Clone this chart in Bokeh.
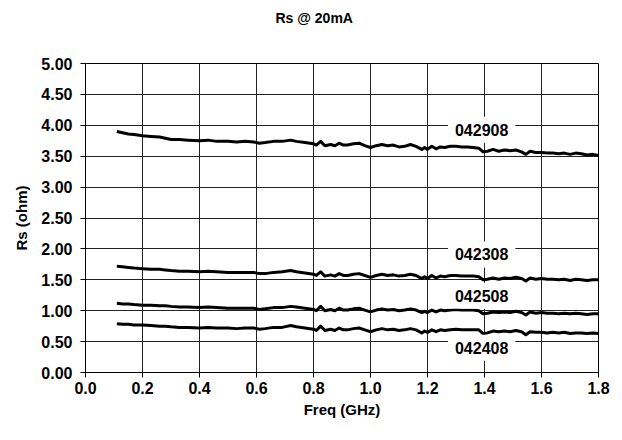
from bokeh.plotting import figure
from bokeh.models import Range1d, FixedTicker, PrintfTickFormatter, Label, Title
from bokeh.embed import file_html
from bokeh.resources import INLINE

# ---- data ----
freq = [0.11, 0.13, 0.15, 0.17, 0.20, 0.23, 0.26, 0.28, 0.30, 0.33,
        0.36, 0.40, 0.43, 0.46, 0.50, 0.53, 0.56, 0.59, 0.61, 0.63,
        0.66, 0.69, 0.72, 0.74, 0.77, 0.80, 0.81, 0.825, 0.84, 0.86,
        0.875, 0.89, 0.905, 0.92, 0.94, 0.96, 0.98, 1.00, 1.02, 1.04,
        1.06, 1.08, 1.10, 1.12, 1.14, 1.16, 1.18, 1.19, 1.20, 1.215,
        1.23, 1.245, 1.26, 1.28, 1.30, 1.32, 1.34, 1.36, 1.38, 1.395,
        1.41, 1.43, 1.45, 1.47, 1.49, 1.51, 1.53, 1.545, 1.56, 1.58,
        1.60, 1.62, 1.64, 1.66, 1.68, 1.70, 1.72, 1.74, 1.76, 1.78,
        1.80]

rs_042908 = [3.90, 3.88, 3.86, 3.85, 3.83, 3.82, 3.81, 3.79, 3.77, 3.77,
             3.76, 3.75, 3.76, 3.74, 3.74, 3.73, 3.74, 3.73, 3.71, 3.72,
             3.74, 3.74, 3.76, 3.74, 3.72, 3.70, 3.68, 3.74, 3.67, 3.69,
             3.67, 3.71, 3.68, 3.68, 3.70, 3.71, 3.67, 3.64, 3.67, 3.69,
             3.67, 3.68, 3.65, 3.66, 3.69, 3.66, 3.61, 3.64, 3.61, 3.66,
             3.62, 3.65, 3.64, 3.66, 3.66, 3.65, 3.65, 3.64, 3.63, 3.57,
             3.58, 3.61, 3.58, 3.60, 3.59, 3.60, 3.57, 3.53, 3.58, 3.56,
             3.56, 3.55, 3.55, 3.54, 3.55, 3.53, 3.55, 3.54, 3.52, 3.53,
             3.51]

rs_042308 = [1.72, 1.71, 1.70, 1.69, 1.68, 1.67, 1.67, 1.66, 1.65, 1.64,
             1.64, 1.63, 1.64, 1.63, 1.62, 1.62, 1.62, 1.62, 1.60, 1.60,
             1.62, 1.63, 1.65, 1.63, 1.61, 1.59, 1.57, 1.63, 1.56, 1.58,
             1.56, 1.60, 1.57, 1.57, 1.59, 1.60, 1.57, 1.54, 1.57, 1.59,
             1.57, 1.58, 1.56, 1.57, 1.59, 1.57, 1.52, 1.55, 1.52, 1.57,
             1.53, 1.56, 1.55, 1.57, 1.57, 1.56, 1.56, 1.56, 1.55, 1.50,
             1.51, 1.53, 1.51, 1.53, 1.52, 1.54, 1.52, 1.48, 1.53, 1.51,
             1.52, 1.51, 1.51, 1.50, 1.51, 1.49, 1.51, 1.50, 1.49, 1.50,
             1.50]

rs_042508 = [1.12, 1.11, 1.11, 1.10, 1.09, 1.09, 1.08, 1.08, 1.07, 1.06,
             1.06, 1.05, 1.06, 1.05, 1.04, 1.04, 1.04, 1.04, 1.02, 1.03,
             1.05, 1.05, 1.07, 1.06, 1.04, 1.02, 1.00, 1.07, 1.00, 1.02,
             1.00, 1.04, 1.01, 1.01, 1.03, 1.04, 1.01, 0.98, 1.01, 1.03,
             1.01, 1.02, 1.00, 1.01, 1.03, 1.01, 0.97, 0.99, 0.97, 1.01,
             0.98, 1.01, 1.00, 1.01, 1.02, 1.01, 1.01, 1.01, 1.00, 0.95,
             0.96, 0.98, 0.97, 0.98, 0.97, 0.99, 0.97, 0.93, 0.98, 0.96,
             0.97, 0.96, 0.96, 0.95, 0.96, 0.95, 0.96, 0.95, 0.94, 0.95,
             0.95]

rs_042408 = [0.79, 0.78, 0.78, 0.77, 0.77, 0.76, 0.75, 0.75, 0.74, 0.73,
             0.73, 0.72, 0.73, 0.72, 0.72, 0.71, 0.72, 0.72, 0.70, 0.71,
             0.73, 0.73, 0.76, 0.74, 0.72, 0.70, 0.68, 0.75, 0.68, 0.70,
             0.68, 0.72, 0.69, 0.69, 0.71, 0.72, 0.69, 0.66, 0.69, 0.71,
             0.69, 0.70, 0.68, 0.69, 0.71, 0.69, 0.64, 0.67, 0.65, 0.69,
             0.66, 0.69, 0.68, 0.69, 0.70, 0.69, 0.69, 0.69, 0.69, 0.63,
             0.64, 0.67, 0.66, 0.67, 0.66, 0.68, 0.66, 0.61, 0.66, 0.65,
             0.65, 0.64, 0.65, 0.64, 0.65, 0.63, 0.64, 0.64, 0.63, 0.64,
             0.63]

series = [rs_042908, rs_042308, rs_042508, rs_042408]

label_text = ["042908", "042308", "042508", "042408"]
label_freq = [1.39, 1.39, 1.39, 1.39]
label_rs = [3.93, 1.91, 1.24, 0.40]

x_ticks = [0.0, 0.2, 0.4, 0.6, 0.8, 1.0, 1.2, 1.4, 1.6, 1.8]
y_ticks = [0.0, 0.5, 1.0, 1.5, 2.0, 2.5, 3.0, 3.5, 4.0, 4.5, 5.0]

title_text = "Rs @ 20mA"

FONT = "Liberation Sans"

p = figure(width=614, height=432, output_backend="svg", toolbar_location=None,
           x_range=Range1d(0, 1.8), y_range=Range1d(0, 5), title=None)
p.min_border_left = 85
p.min_border_right = 16
p.min_border_top = 63
p.min_border_bottom = 60

# spacer (closest to the frame) and the real title above it
p.add_layout(Title(text=" ", text_font_size="19px", text_font=FONT), "above")
p.add_layout(Title(text=title_text, text_font=FONT, text_font_style="bold",
                   text_font_size="14px", text_color="black", align="left",
                   offset=190), "above")

p.background_fill_color = "white"
p.border_fill_color = "white"
p.outline_line_color = "black"
p.outline_line_width = 1

for ax in (p.xaxis[0], p.yaxis[0]):
    ax.axis_line_color = "black"
    ax.major_tick_line_color = "black"
    ax.major_tick_out = 5
    ax.major_tick_in = 0
    ax.minor_tick_line_color = None
    ax.major_label_text_font = FONT
    ax.major_label_text_font_style = "bold"
    ax.major_label_text_font_size = "16px"
    ax.major_label_text_color = "black"
    ax.axis_label_text_font = FONT
    ax.axis_label_text_font_style = "bold"
    ax.axis_label_text_font_size = "15px"
    ax.axis_label_text_color = "black"

p.xaxis.ticker = FixedTicker(ticks=x_ticks)
p.yaxis.ticker = FixedTicker(ticks=y_ticks)
p.xaxis.formatter = PrintfTickFormatter(format="%.1f")
p.yaxis.formatter = PrintfTickFormatter(format="%.2f")
p.xaxis.axis_label = "Freq (GHz)"
p.yaxis.axis_label = "Rs (ohm)"
p.xaxis.major_label_standoff = 4
p.yaxis.major_label_standoff = 8
p.xaxis.axis_label_standoff = 4
p.yaxis.axis_label_standoff = 8

p.xgrid.ticker = FixedTicker(ticks=x_ticks)
p.ygrid.ticker = FixedTicker(ticks=y_ticks)
p.xgrid.grid_line_color = "#222222"
p.ygrid.grid_line_color = "#222222"
p.xgrid.grid_line_width = 1
p.ygrid.grid_line_width = 1

for ys in series:
    p.line(freq, ys, line_color="black", line_width=3, line_join="round")

for t, fx, ry in zip(label_text, label_freq, label_rs):
    p.add_layout(Label(x=fx, y=ry, text=t, text_font=FONT, text_font_style="bold",
                       text_font_size="16px", text_color="black",
                       text_align="center", text_baseline="middle",
                       background_fill_color="white", padding=7))

open("out.html", "w").write(file_html(p, INLINE))
